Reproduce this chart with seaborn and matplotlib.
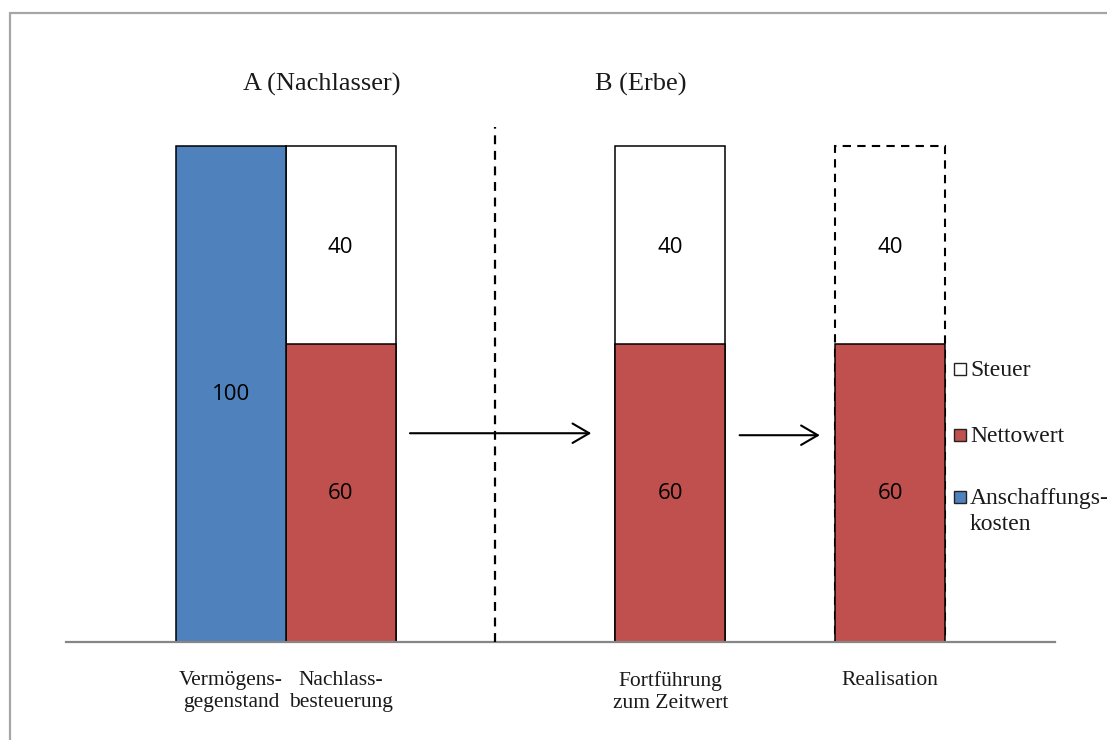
import matplotlib
matplotlib.use("Agg")
import matplotlib.pyplot as plt
from matplotlib.patches import Rectangle
from matplotlib.lines import Line2D
import pandas as pd
import seaborn as sns

# Kategorien der Grafik (leere Plätze halten Abstand zwischen den Gruppen)
kategorien = ["Vermögens-\ngegenstand", "Nachlass-\nbesteuerung",
              "Fortführung\nzum Zeitwert", "Realisation"]
reihenfolge = ["", kategorien[0], kategorien[1], " ", "  ",
               kategorien[2], "   ", kategorien[3], "    "]

anschaffungskosten = [100, 0, 0, 0]
nettowert = [0, 60, 60, 60]
steuer = [0, 40, 40, 40]

legenden_texte = ["Steuer", "Nettowert", "Anschaffungs-\nkosten"]
titel_a = "A (Nachlasser)"
titel_b = "B (Erbe)"

BLAU = "#4F81BD"
ROT = "#C0504D"
WEISS = "#FFFFFF"

sns.set_theme(style="white")
plt.rcParams["font.family"] = ["Liberation Serif", "DejaVu Serif"]

df = pd.DataFrame({
    "kategorie": kategorien,
    "anschaffung": anschaffungskosten,
    "netto": nettowert,
    "steuer": steuer,
})
df["gesamt"] = df["netto"] + df["steuer"]

W, H = 1107, 740
fig = plt.figure(figsize=(W / 100, H / 100), dpi=100)
ax = fig.add_axes([66 / W, 1 - 642 / H, 989 / W, 602 / H])

bar_kw = dict(order=reihenfolge, width=1.0, saturation=1, errorbar=None,
              edgecolor="black", linewidth=1.1, ax=ax)

# Steuer (obere Segmente): gesamte Säulenhöhe in Weiß
d_steuer = df[df["steuer"] > 0]
sns.barplot(data=d_steuer, x="kategorie", y="gesamt", color=WEISS, **bar_kw)
idx_real = reihenfolge.index("Realisation")
for p in ax.patches:
    if abs(p.get_x() + p.get_width() / 2 - idx_real) < 0.1:
        p.set_linestyle((0, (4, 3)))
        p.set_linewidth(1.5)

# Nettowert
d_netto = df[df["netto"] > 0]
sns.barplot(data=d_netto, x="kategorie", y="netto", color=ROT, **bar_kw)

# Anschaffungskosten
d_ak = df[df["anschaffung"] > 0]
sns.barplot(data=d_ak, x="kategorie", y="anschaffung", color=BLAU, **bar_kw)

# Wertbeschriftungen
zahl_font = dict(family=["Open Sans", "DejaVu Sans"], fontsize=16,
                 ha="center", va="center", color="black")
for _, r in df.iterrows():
    x = reihenfolge.index(r["kategorie"])
    if r["anschaffung"] > 0:
        ax.text(x, r["anschaffung"] / 2, f"{r['anschaffung']:g}", **zahl_font)
    if r["netto"] > 0:
        ax.text(x, r["netto"] / 2, f"{r['netto']:g}", **zahl_font)
    if r["steuer"] > 0:
        ax.text(x, r["netto"] + r["steuer"] / 2 - 0.5, f"{r['steuer']:g}", **zahl_font)

ax.set_xlim(-0.5, len(reihenfolge) - 0.5)
ax.set_ylim(0, 121.4)
ax.set_xlabel("")
ax.set_ylabel("")
ax.set_yticks([])
ax.tick_params(axis="x", length=0, pad=21, labelsize=15.5, colors="#1a1a1a")
for lbl in ax.get_xticklabels():
    lbl.set_linespacing(1.2)
for s in ["left", "top", "right"]:
    ax.spines[s].set_visible(False)
ax.spines["bottom"].set_color("#868686")
ax.spines["bottom"].set_linewidth(1.6)
ax.set_facecolor("none")

# Trennlinie zwischen A und B
ax.vlines(3.4, 0, 103.8, colors="black", linewidth=1.6,
          linestyles=[(0, (4, 3))], zorder=3)

# Pfeile
pfeil = dict(arrowstyle="->,head_length=0.6,head_width=0.35", lw=1.5,
             color="black", shrinkA=0, shrinkB=0, mutation_scale=20)
ax.annotate("", xy=(4.28, 42.1), xytext=(2.63, 42.1), arrowprops=pfeil)
ax.annotate("", xy=(6.36, 41.7), xytext=(5.63, 41.7), arrowprops=pfeil)

# Überschriften
ax.text(1.83, 112.4, titel_a, fontsize=19, ha="center", va="center",
        color="#1a1a1a", clip_on=False)
ax.text(4.73, 112.4, titel_b, fontsize=19, ha="center", va="center",
        color="#1a1a1a", clip_on=False)

# Legende
leg_farben = [WEISS, ROT, BLAU]
leg_y = [369, 435, 497]
for farbe, text, y in zip(leg_farben, legenden_texte, leg_y):
    fig.patches.append(Rectangle((954 / W, 1 - (y + 6) / H), 12 / W, 12 / H,
                                 transform=fig.transFigure, facecolor=farbe,
                                 edgecolor="#222222", linewidth=1.0))
    if "\n" in text:
        fig.text(970 / W, 1 - (y - 9) / H, text, fontsize=17, ha="left",
                 va="top", color="#1a1a1a", linespacing=1.3)
    else:
        fig.text(970 / W, 1 - (y + 1) / H, text, fontsize=17, ha="left",
                 va="center", color="#1a1a1a")

# Rahmen (oben und links)
fig.lines.append(Line2D([10 / W, 1.0], [1 - 13 / H, 1 - 13 / H],
                        transform=fig.transFigure, color="#a6a6a6", linewidth=1.6))
fig.lines.append(Line2D([10 / W, 10 / W], [0, 1 - 13 / H],
                        transform=fig.transFigure, color="#a6a6a6", linewidth=1.6))

fig.savefig("out.png", dpi=100, facecolor="white")
